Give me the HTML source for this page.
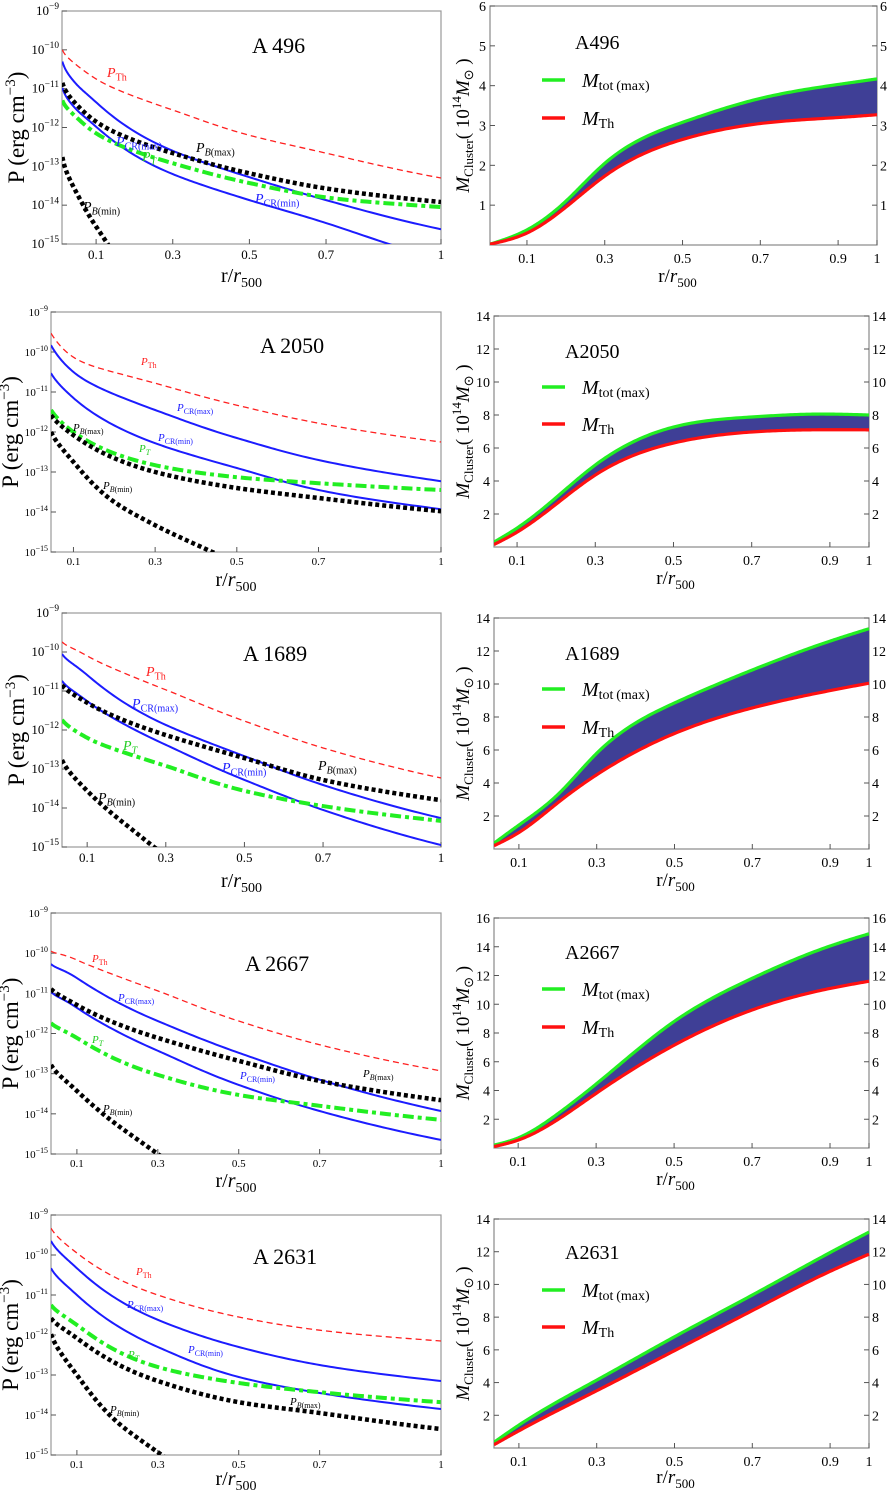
<!DOCTYPE html>
<html><head><meta charset="utf-8"><style>
html,body{margin:0;padding:0;background:#fff;}
svg{display:block;font-family:"Liberation Serif",serif;}
</style></head><body>
<svg id="fig" width="889" height="1492" viewBox="0 0 889 1492" xmlns="http://www.w3.org/2000/svg"></svg>
<script>
// ---------- DATA (log10 P in erg cm^-3) ----------
const a496_r = [0.012,0.05,0.1,0.3,0.5,0.7,1];
const a496_th = [-10.0,-10.4,-10.75,-11.55,-12.2,-12.66,-13.3];
const a496_crmax = [-10.3,-10.9,-11.35,-12.6,-13.28,-13.87,-14.62];
const a496_crmin = [-10.98,-11.55,-11.98,-13.2,-13.87,-14.46,-15.4];
const a496_bmax = [-10.85,-11.42,-11.85,-12.66,-13.18,-13.57,-13.92];
const a496_pt = [-11.3,-11.75,-12.15,-12.92,-13.43,-13.8,-14.05];
const a496_bmin_r = [0.012,0.05,0.09,0.13,0.16];
const a496_bmin = [-12.76,-13.7,-14.4,-15,-15.5];

const a2050_r = [0.045,0.1,0.3,0.5,0.7,1];
const a2050_th = [-9.53,-10.13,-10.78,-11.33,-11.78,-12.25];
const a2050_crmax = [-9.83,-10.5,-11.45,-12.15,-12.7,-13.23];
const a2050_crmin = [-10.53,-11.15,-12.28,-12.9,-13.45,-13.93];
const a2050_pt = [-11.45,-12.0,-12.83,-13.13,-13.28,-13.45];
const a2050_bmax = [-11.58,-12.08,-13.0,-13.4,-13.65,-13.98];
const a2050_bmin_r = [0.045,0.1,0.2,0.3,0.44,0.5];
const a2050_bmin = [-12.0,-12.75,-13.75,-14.33,-15,-15.3];

const a1689_r = [0.036,0.1,0.3,0.5,0.7,1];
const a1689_th = [-9.74,-10.1,-10.97,-11.77,-12.46,-13.23];
const a1689_crmax = [-10.05,-10.59,-11.87,-12.67,-13.41,-14.26];
const a1689_crmin = [-10.74,-11.26,-12.38,-13.28,-14.05,-14.95];
const a1689_bmax = [-10.85,-11.3,-12.13,-12.72,-13.28,-13.8];
const a1689_pt = [-11.74,-12.2,-12.92,-13.56,-13.95,-14.33];
const a1689_bmin_r = [0.036,0.1,0.2,0.27,0.32];
const a1689_bmin = [-12.77,-13.56,-14.44,-15,-15.4];

const a2667_r = [0.036,0.1,0.3,0.5,0.7,1];
const a2667_th = [-9.95,-10.17,-10.94,-11.69,-12.28,-12.93];
const a2667_crmax = [-10.27,-10.62,-11.69,-12.48,-13.15,-13.93];
const a2667_crmin = [-10.96,-11.36,-12.43,-13.28,-13.93,-14.65];
const a2667_bmax = [-10.89,-11.29,-12.11,-12.68,-13.18,-13.66];
const a2667_pt = [-11.74,-12.11,-13.03,-13.53,-13.8,-14.15];
const a2667_bmin_r = [0.036,0.1,0.2,0.3,0.35];
const a2667_bmin = [-12.78,-13.43,-14.28,-15,-15.4];

const a2631_r = [0.036,0.1,0.3,0.5,0.7,1];
const a2631_th = [-9.33,-9.95,-11.0,-11.55,-11.88,-12.15];
const a2631_crmax = [-9.65,-10.33,-11.62,-12.3,-12.75,-13.15];
const a2631_crmin = [-10.33,-11.0,-12.3,-13.05,-13.45,-13.85];
const a2631_pt = [-11.25,-11.75,-12.8,-13.2,-13.43,-13.68];
const a2631_bmax = [-11.58,-12.08,-13.15,-13.68,-13.95,-14.35];
const a2631_bmin_r = [0.036,0.1,0.2,0.3,0.35];
const a2631_bmin = [-11.98,-13.0,-14.18,-14.93,-15.3];

// ---------- DATA (cluster mass, 1e14 Msun) ----------
const m496_r = [0.005,0.1,0.2,0.3,0.5,0.7,0.9,1];
const m496_tot = [0.02,0.38,1.1,2.05,3.08,3.68,4.03,4.17];
const m496_th = [0.02,0.3,0.95,1.73,2.65,3.05,3.2,3.27];
const m2050_r = [0.041,0.1,0.2,0.3,0.5,0.7,0.85,1];
const m2050_tot = [0.3,1.15,3.0,4.97,7.27,7.88,8.05,8.0];
const m2050_th = [0.15,0.9,2.6,4.36,6.3,6.97,7.1,7.1];
const m1689_r = [0.036,0.1,0.2,0.3,0.5,0.7,0.9,1];
const m1689_tot = [0.35,1.45,3.3,5.8,8.85,10.85,12.6,13.35];
const m1689_th = [0.2,1.0,2.8,4.5,7.0,8.55,9.6,10.05];
const m2667_r = [0.038,0.1,0.2,0.3,0.5,0.7,0.9,1];
const m2667_tot = [0.2,0.7,2.35,4.45,8.8,11.8,14.05,14.9];
const m2667_th = [0.1,0.55,1.95,3.8,7.15,9.6,11.1,11.6];
const m2631_r = [0.036,0.1,0.3,0.5,0.7,0.9,1];
const m2631_tot = [0.35,1.4,4.15,6.8,9.35,11.95,13.2];
const m2631_th = [0.2,1.05,3.5,5.95,8.4,10.8,11.85];

const xTickLabels = ["0.1","0.3","0.5","0.7","1"];
const xTickValues = [0.1,0.3,0.5,0.7,1];
const mxTickLabels = ["0.1","0.3","0.5","0.7","0.9","1"];
const mxTickValues = [0.1,0.3,0.5,0.7,0.9,1];
const pDecades = [-9,-10,-11,-12,-13,-14,-15];

const NS="http://www.w3.org/2000/svg";
const svg=document.getElementById('fig');
function el(tag,attrs,parent){const e=document.createElementNS(NS,tag);for(const k in attrs)e.setAttribute(k,attrs[k]);(parent||svg).appendChild(e);return e;}

function mono(xs,ys){
  const n=xs.length,d=[],m=new Array(n);
  for(let i=0;i<n-1;i++)d.push((ys[i+1]-ys[i])/(xs[i+1]-xs[i]));
  m[0]=d[0];m[n-1]=d[n-2];
  for(let i=1;i<n-1;i++){m[i]=(d[i-1]*d[i]<=0)?0:(d[i-1]+d[i])/2;}
  for(let i=0;i<n-1;i++){if(d[i]===0){m[i]=m[i+1]=0;continue;}const a=m[i]/d[i],b=m[i+1]/d[i],s=a*a+b*b;if(s>9){const t=3/Math.sqrt(s);m[i]=t*a*d[i];m[i+1]=t*b*d[i];}}
  const pts=[];
  for(let i=0;i<n-1;i++){const h=xs[i+1]-xs[i];for(let k=0;k<30;k++){const t=k/30,t2=t*t,t3=t2*t;
    const y=(2*t3-3*t2+1)*ys[i]+(t3-2*t2+t)*h*m[i]+(-2*t3+3*t2)*ys[i+1]+(t3-t2)*h*m[i+1];
    pts.push([xs[i]+t*h,y]);}}
  pts.push([xs[n-1],ys[n-1]]);return pts;
}
function spline(xs,ys){
  const n=xs.length,h=[],al=[],l=[1],mu=[0],z=[0],c=new Array(n).fill(0),b=[],d=[];
  for(let i=0;i<n-1;i++)h.push(xs[i+1]-xs[i]);
  for(let i=1;i<n-1;i++)al[i]=3/h[i]*(ys[i+1]-ys[i])-3/h[i-1]*(ys[i]-ys[i-1]);
  for(let i=1;i<n-1;i++){l[i]=2*(xs[i+1]-xs[i-1])-h[i-1]*mu[i-1];mu[i]=h[i]/l[i];z[i]=(al[i]-h[i-1]*z[i-1])/l[i];}
  for(let j=n-2;j>=0;j--){c[j]=(j>0?z[j]:0)-mu[j]*c[j+1];}
  c[0]=0;
  for(let j=0;j<n-1;j++){b[j]=(ys[j+1]-ys[j])/h[j]-h[j]*(c[j+1]+2*c[j])/3;d[j]=(c[j+1]-c[j])/(3*h[j]);}
  const pts=[];
  for(let i=0;i<n-1;i++){for(let k=0;k<30;k++){const dx=h[i]*k/30;pts.push([xs[i]+dx,ys[i]+b[i]*dx+c[i]*dx*dx+d[i]*dx*dx*dx]);}}
  pts.push([xs[n-1],ys[n-1]]);return pts;
}
function pathD(pts){return pts.map((p,i)=>(i?'L':'M')+p[0].toFixed(2)+' '+p[1].toFixed(2)).join('');}

let clipId=0;
function pressurePanel(cfg){
  const [L,T,R,B,rmin]=cfg.box;
  const xs=r=>L+(r-rmin)/(1-rmin)*(R-L);
  const ys=v=>T+(-9-v)/6*(B-T);
  const g=el('g',{});
  
  
  const id='c'+(clipId++);
  const cp=el('clipPath',{id:id},g);el('rect',{x:L,y:T,width:R-L,height:B-T},cp);
  el('rect',{x:L,y:T,width:R-L,height:B-T,fill:'none',stroke:'#999','stroke-width':1.2},g);
  pDecades.forEach(dc=>{const y=ys(dc);
    el('line',{x1:L,x2:L+5,y1:y,y2:y,stroke:'#555'},g);
    const t=el('text',{x:L-3,y:y+4,'text-anchor':'end','font-size':cfg.fs,fill:'#000'},g);
    
    t.appendChild(document.createTextNode('10'));
    const s=el('tspan',{'font-size':cfg.fs*0.72,dy:-cfg.fs*0.45},t);s.textContent='\u2212'+(-dc);
  });
  xTickValues.forEach((v,i)=>{const x=xs(v);
    el('line',{x1:x,x2:x,y1:B,y2:B-5,stroke:'#555'},g);
    const t=el('text',{x:x,y:B+cfg.fs+2,'text-anchor':'middle','font-size':cfg.fs},g);
    
    t.textContent=xTickLabels[i];
  });
  const cg=el('g',{'clip-path':'url(#'+id+')'},g);
  const series=[
    ['thermal-pressure-line',cfg.r,cfg.th,{stroke:'#ff2020','stroke-width':1.3,'stroke-dasharray':'6 4',fill:'none'}],
    ['cr-max-line',cfg.r,cfg.crmax,{stroke:'#1c1cff','stroke-width':2,fill:'none'}],
    ['cr-min-line',cfg.r,cfg.crmin,{stroke:'#1c1cff','stroke-width':2,fill:'none'}],
    ['turbulent-pressure-line',cfg.r,cfg.pt,{stroke:'#22ee22','stroke-width':4,'stroke-dasharray':'11 4 4 4',fill:'none'}],
    ['b-max-line',cfg.r,cfg.bmax,{stroke:'#000','stroke-width':4.5,'stroke-dasharray':'4 3',fill:'none'}],
    ['b-min-line',cfg.bmin_r,cfg.bmin,{stroke:'#000','stroke-width':4.5,'stroke-dasharray':'4 3',fill:'none'}]
  ];
  series.forEach(s=>{
    const raw=mono(s[1].map(Math.log),s[2]);
    const pts=raw.map(p=>[xs(Math.exp(p[0])),ys(p[1])]);
    const p=el('path',Object.assign({d:pathD(pts)},s[3]),cg);
    
    
  });
  cfg.labels.forEach(lb=>{
    const t=el('text',{x:lb[1],y:lb[2],'font-size':cfg.lfs,fill:lb[3]},g);
    
    
    const a=el('tspan',{'font-style':'italic'},t);a.textContent='P';
    const sub=lb[0];
    if(sub[0]==='B'||sub==='T'){
      const b1=el('tspan',{'font-size':cfg.lfs*0.72,dy:cfg.lfs*0.25,'font-style':'italic'},t);b1.textContent=sub[0];
      if(sub.length>1){const b2=el('tspan',{'font-size':cfg.lfs*0.72},t);b2.textContent=sub.slice(1);}
    } else {
      const b=el('tspan',{'font-size':cfg.lfs*0.72,dy:cfg.lfs*0.25},t);b.textContent=sub;
    }
  });
  const tt=el('text',{x:cfg.title[1],y:cfg.title[2],'font-size':22},g);
  
  tt.textContent=cfg.title[0];
  const cy=(T+B)/2;
  const yt=el('text',{x:0,y:0,'font-size':23,'text-anchor':'middle',transform:'translate('+cfg.ytx+','+cy+') rotate(-90)'},g);
  
  yt.appendChild(document.createTextNode('P (erg cm'));
  const ys1=el('tspan',{'font-size':15,dy:-9},yt);ys1.textContent='\u22123';
  const ys2=el('tspan',{dy:9},yt);ys2.textContent=')';
  const xt=el('text',{x:(L+R)/2-10,y:B+cfg.xto,'font-size':20,'text-anchor':'middle'},g);
  
  xt.appendChild(document.createTextNode('r/'));
  const xi=el('tspan',{'font-style':'italic'},xt);xi.textContent='r';
  const xs2=el('tspan',{'font-size':14,dy:5},xt);xs2.textContent='500';
}

function massPanel(cfg){
  const [L,T,R,B,rmin,ymax]=cfg.box;
  const xs=r=>L+(r-rmin)/(1-rmin)*(R-L);
  const ys=v=>B-v/ymax*(B-T);
  const g=el('g',{});
  
  
  const id='c'+(clipId++);
  const cp=el('clipPath',{id:id},g);el('rect',{x:L,y:T-3,width:R-L+3,height:B-T+3},cp);
  el('rect',{x:L,y:T,width:R-L,height:B-T,fill:'none',stroke:'#888','stroke-width':1.2},g);
  const step=ymax>6?2:1;
  for(let v=step;v<=ymax;v+=step){const y=ys(v);
    el('line',{x1:L,x2:L+5,y1:y,y2:y,stroke:'#555'},g);
    el('line',{x1:R,x2:R-5,y1:y,y2:y,stroke:'#555'},g);
    const t1=el('text',{x:L-4,y:y+5,'text-anchor':'end','font-size':14},g);
    t1.textContent=v;
    const t2=el('text',{x:R+3,y:y+5,'font-size':14},g);
    t2.textContent=v;
  }
  mxTickValues.forEach((v,i)=>{const x=xs(v);
    el('line',{x1:x,x2:x,y1:B,y2:B-5,stroke:'#555'},g);
    const t=el('text',{x:x,y:B+18,'text-anchor':'middle','font-size':14},g);
    t.textContent=mxTickLabels[i];
  });
  const cg=el('g',{'clip-path':'url(#'+id+')'},g);
  const top=spline(cfg.r,cfg.tot).map(p=>[xs(p[0]),ys(p[1])]);
  const bot=spline(cfg.r,cfg.th).map(p=>[xs(p[0]),ys(p[1])]);
  const band=el('path',{d:pathD(top)+pathD(bot.slice().reverse()).replace(/^M/,'L')+'Z',fill:'#3f3f96',stroke:'none'},cg);
  
  const l1=el('path',{d:pathD(top),stroke:'#22ee22','stroke-width':3.2,fill:'none'},cg);
  
  const l2=el('path',{d:pathD(bot),stroke:'#ff1010','stroke-width':3.2,fill:'none'},cg);
  
  const tt=el('text',{x:cfg.tx,y:cfg.ty,'font-size':20},g);
  tt.textContent=cfg.title;
  [[cfg.gy,'#22ee22','tot\u2009(max)','legend-m-tot-max'],[cfg.ry,'#ff1010','Th','legend-m-th']].forEach(e=>{
    const lg=el('g',{},g);
    el('line',{x1:542,x2:565,y1:e[0],y2:e[0],stroke:e[1],'stroke-width':3.5},lg);
    const t=el('text',{x:582,y:e[0]+7,'font-size':20},lg);
    const a=el('tspan',{'font-style':'italic'},t);a.textContent='M';
    const b=el('tspan',{'font-size':14,dy:3},t);b.textContent=e[2];
  });
  const cy=(T+B)/2;
  const yt=el('text',{x:0,y:0,'font-size':19,'text-anchor':'middle',transform:'translate(469,'+cy+') rotate(-90)'},g);
  
  const m=el('tspan',{'font-style':'italic'},yt);m.textContent='M';
  const c=el('tspan',{'font-size':13,dy:4},yt);c.textContent='Cluster';
  const o=el('tspan',{dy:-4},yt);o.textContent='( 10';
  const e14=el('tspan',{'font-size':13,dy:-8},yt);e14.textContent='14';
  const m2=el('tspan',{'font-style':'italic',dy:8},yt);m2.textContent='M';
  const sun=el('tspan',{'font-size':13,dy:4},yt);sun.textContent='\u2299';
  const cl=el('tspan',{dy:-4},yt);cl.textContent=' )';
  const xt=el('text',{x:(L+R)/2-6,y:B+cfg.xto,'font-size':19,'text-anchor':'middle'},g);
  
  xt.appendChild(document.createTextNode('r/'));
  const xi=el('tspan',{'font-style':'italic'},xt);xi.textContent='r';
  const xs2=el('tspan',{'font-size':13,dy:5},xt);xs2.textContent='500';
}

const RED='#ff2020',BLUE='#1c1cff',GRN='#22cc22',BLK='#000';
pressurePanel({name:'a496',box:[62,11,441,244,0.011],fs:13,lfs:14,ytx:24,xto:38,
  r:a496_r,th:a496_th,crmax:a496_crmax,crmin:a496_crmin,pt:a496_pt,bmax:a496_bmax,bmin_r:a496_bmin_r,bmin:a496_bmin,
  title:['A 496',252,53],
  labels:[['Th',107,77,RED,'label-p-th'],['CR(max)',116,146,BLUE,'label-p-cr-max'],['B(max)',196,152,BLK,'label-p-b-max'],
          ['T',142,161,GRN,'label-p-t'],['CR(min)',255,203,BLUE,'label-p-cr-min'],['B(min)',83,211,BLK,'label-p-b-min']]});
pressurePanel({name:'a2050',box:[51,312,441,552,0.045],fs:11,lfs:11,ytx:18,xto:34,
  r:a2050_r,th:a2050_th,crmax:a2050_crmax,crmin:a2050_crmin,pt:a2050_pt,bmax:a2050_bmax,bmin_r:a2050_bmin_r,bmin:a2050_bmin,
  title:['A 2050',260,353],
  labels:[['Th',141,365,RED,'label-p-th'],['CR(max)',177,411,BLUE,'label-p-cr-max'],['B(max)',73,431,BLK,'label-p-b-max'],
          ['CR(min)',158,441,BLUE,'label-p-cr-min'],['T',139,452,GRN,'label-p-t'],['B(min)',103,489,BLK,'label-p-b-min']]});
pressurePanel({name:'a1689',box:[62,613,441,847,0.036],fs:13,lfs:14,ytx:24,xto:40,
  r:a1689_r,th:a1689_th,crmax:a1689_crmax,crmin:a1689_crmin,pt:a1689_pt,bmax:a1689_bmax,bmin_r:a1689_bmin_r,bmin:a1689_bmin,
  title:['A 1689',243,661],
  labels:[['Th',146,676,RED,'label-p-th'],['CR(max)',132,708,BLUE,'label-p-cr-max'],['T',123,750,GRN,'label-p-t'],
          ['CR(min)',222,772,BLUE,'label-p-cr-min'],['B(max)',318,770,BLK,'label-p-b-max'],['B(min)',98,802,BLK,'label-p-b-min']]});
pressurePanel({name:'a2667',box:[51,913,441,1154,0.036],fs:11,lfs:11,ytx:18,xto:33,
  r:a2667_r,th:a2667_th,crmax:a2667_crmax,crmin:a2667_crmin,pt:a2667_pt,bmax:a2667_bmax,bmin_r:a2667_bmin_r,bmin:a2667_bmin,
  title:['A 2667',245,971],
  labels:[['Th',92,962,RED,'label-p-th'],['CR(max)',118,1001,BLUE,'label-p-cr-max'],['T',92,1043,GRN,'label-p-t'],
          ['CR(min)',240,1079,BLUE,'label-p-cr-min'],['B(max)',363,1077,BLK,'label-p-b-max'],['B(min)',103,1112,BLK,'label-p-b-min']]});
pressurePanel({name:'a2631',box:[51,1215,441,1455,0.036],fs:11,lfs:11,ytx:18,xto:30,
  r:a2631_r,th:a2631_th,crmax:a2631_crmax,crmin:a2631_crmin,pt:a2631_pt,bmax:a2631_bmax,bmin_r:a2631_bmin_r,bmin:a2631_bmin,
  title:['A 2631',253,1264],
  labels:[['Th',136,1275,RED,'label-p-th'],['CR(max)',127,1308,BLUE,'label-p-cr-max'],['CR(min)',188,1353,BLUE,'label-p-cr-min'],
          ['T',128,1358,GRN,'label-p-t'],['B(max)',290,1405,BLK,'label-p-b-max'],['B(min)',110,1413,BLK,'label-p-b-min']]});

massPanel({name:'a496',box:[490,6,877,245,0.005,6],r:m496_r,tot:m496_tot,th:m496_th,title:'A496',tx:575,ty:49,gy:80,ry:118,xto:37});
massPanel({name:'a2050',box:[494,316,869,547,0.041,14],r:m2050_r,tot:m2050_tot,th:m2050_th,title:'A2050',tx:565,ty:358,gy:387,ry:424,xto:37});
massPanel({name:'a1689',box:[494,618,869,849,0.036,14],r:m1689_r,tot:m1689_tot,th:m1689_th,title:'A1689',tx:565,ty:660,gy:689,ry:727,xto:37});
massPanel({name:'a2667',box:[494,918,869,1148,0.038,16],r:m2667_r,tot:m2667_tot,th:m2667_th,title:'A2667',tx:565,ty:959,gy:989,ry:1027,xto:37});
massPanel({name:'a2631',box:[494,1219,869,1448,0.036,14],r:m2631_r,tot:m2631_tot,th:m2631_th,title:'A2631',tx:565,ty:1259,gy:1290,ry:1327,xto:35});
</script>
</body></html>
